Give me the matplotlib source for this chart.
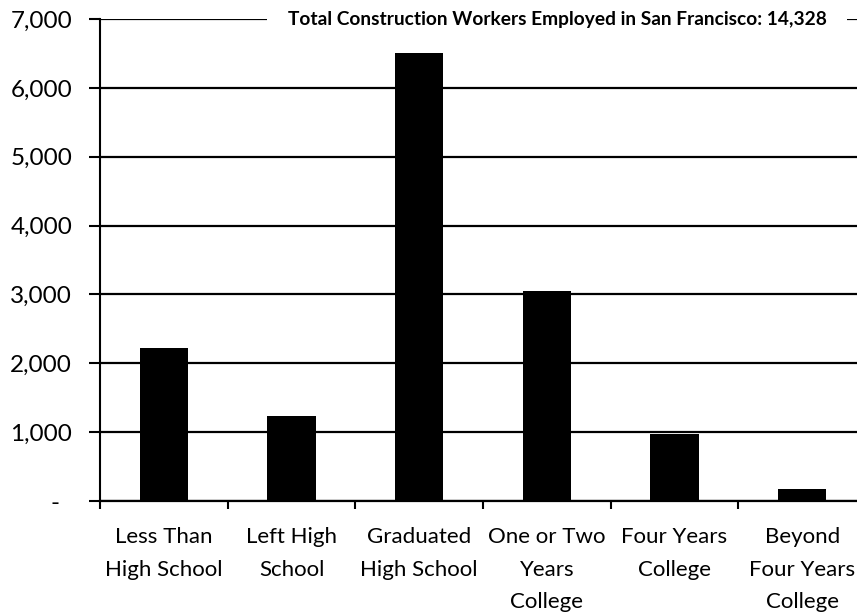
import numpy as np
import matplotlib
matplotlib.use('Agg')
import matplotlib.pyplot as plt
from matplotlib.ticker import FuncFormatter

# education level of SF construction workers
categories = ['Less Than\nHigh School', 'Left High\nSchool', 'Graduated\nHigh School',
              'One or Two\nYears\nCollege', 'Four Years\nCollege', 'Beyond\nFour Years\nCollege']
workers = [2220, 1240, 6500, 3050, 980, 180]
yticks = [0, 1000, 2000, 3000, 4000, 5000, 6000, 7000]
title = 'Total Construction Workers Employed in San Francisco: 14,328'

plt.rcParams['font.family'] = ['Lato', 'DejaVu Sans']

fig = plt.figure(figsize=(8.57, 6.14), dpi=100)
ax = fig.add_axes([100/857, 1-501/614, 766/857, 482/614])

x = np.arange(len(categories))
ax.bar(x, workers, width=0.38, color='black', zorder=3)

ax.set_xlim(-0.5, len(categories)-0.5)
ax.set_ylim(0, 7000)
ax.set_yticks(yticks)


def fmt(v, pos):
    if v == 0:
        return '-  '
    return '{:,.0f}'.format(v)


ax.yaxis.set_major_formatter(FuncFormatter(fmt))
ax.grid(axis='y', color='black', linewidth=1.6, zorder=1)
ax.tick_params(axis='y', direction='out', length=8, width=1.5, pad=20-8, labelsize=17.5)

ax.set_xticks(x)
ax.set_xticklabels(categories, fontsize=16, linespacing=1.78)
ax.set_xticks(np.arange(len(categories)+1)-0.5, minor=True)
ax.tick_params(axis='x', which='major', length=0, pad=19)
ax.tick_params(axis='x', which='minor', direction='out', length=6, width=1.5)

for s in ['top', 'right']:
    ax.spines[s].set_visible(False)
ax.spines['left'].set_linewidth(1.5)
ax.spines['bottom'].set_linewidth(1.6)

fig.text(557/857, 1-19/614, title, ha='center', va='center',
         fontsize=13.8, fontweight='bold',
         bbox=dict(facecolor='white', edgecolor='none', pad=15), zorder=5)

fig.savefig('out.png', dpi=100)
